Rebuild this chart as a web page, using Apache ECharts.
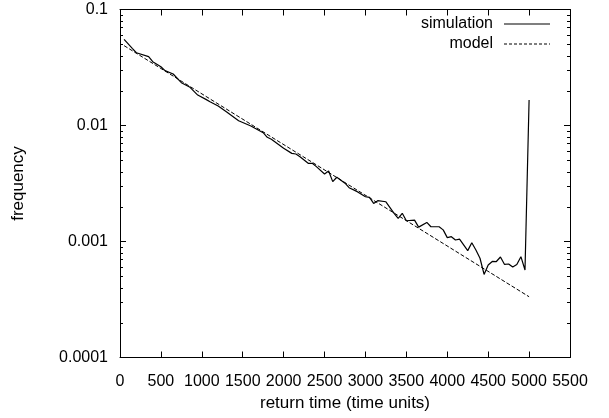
<!DOCTYPE html>
<html>
<head>
<meta charset="utf-8">
<script src="https://cdn.jsdelivr.net/npm/echarts@6/dist/echarts.min.js"></script>
<style>
html,body{margin:0;padding:0;background:#fff;}
#chart{width:609px;height:418px;}
</style>
</head>
<body>
<div id="chart"></div>
<script>
// ---- data ----
const simX = [50,150,200,350,400,500,550,650,750,850,950,1050,1100,1200,1300,1450,1600,1650,1750,1800,1850,2000,2100,2150,2200,2300,2350,2400,2500,2550,2600,2650,2750,2800,2900,3000,3050,3100,3150,3250,3350,3400,3450,3500,3600,3650,3750,3800,3900,3950,4000,4050,4100,4150,4250,4300,4350,4400,4450,4500,4550,4600,4650,4700,4750,4800,4850,4900,4950,5000];
const simY = [0.0553,0.0463,0.0424,0.0392,0.0355,0.0321,0.0297,0.0278,0.0234,0.0215,0.0183,0.0168,0.0160,0.0147,0.01315,0.0110,0.0099,0.00946,0.00867,0.00791,0.0076,0.00636,0.00575,0.00568,0.00538,0.00472,0.00472,0.00442,0.00382,0.00405,0.00328,0.00358,0.00318,0.00291,0.00269,0.00243,0.0024,0.00213,0.00225,0.0022,0.00175,0.00158,0.00175,0.00151,0.00153,0.00133,0.00146,0.00134,0.00134,0.00126,0.00108,0.0011,0.00103,0.00105,0.000834,0.000977,0.000845,0.000717,0.00052,0.000627,0.000673,0.000672,0.000735,0.000634,0.00064,0.000602,0.000634,0.00074,0.000568,0.0166];
const modelX = [50, 5000];
const modelY = [0.0488, 0.000334];
const yTickLabels = ['0.0001','0.001','0.01','0.1'];
const minorTickValues = [2e-4,3e-4,4e-4,5e-4,6e-4,7e-4,8e-4,9e-4,2e-3,3e-3,4e-3,5e-3,6e-3,7e-3,8e-3,9e-3,2e-2,3e-2,4e-2,5e-2,6e-2,7e-2,8e-2,9e-2];
const seriesNames = ['simulation','model'];
const xAxisName = 'return time (time units)';
const yAxisName = 'frequency';

const FONT = 'Liberation Sans, Arial, Helvetica, sans-serif';
const FS = 16;

// legend sample icons (solid line / dashed line)
const ICON_SOLID = 'path://M0,0h46v1.2h-46z';
const ICON_DASH = 'path://M0,0h3v1h-3zM5,0h3v1h-3zM10,0h3v1h-3zM15,0h3v1h-3zM20,0h3v1h-3zM25,0h3v1h-3zM30,0h3v1h-3zM35,0h3v1h-3zM40,0h3v1h-3zM45,0h1v1h-1z';

const chart = echarts.init(document.getElementById('chart'), null, {renderer:'canvas'});

const zip = (xs, ys) => xs.map((x,i)=>[x, ys[i]]);

const yFmt = v => {
  const i = Math.round(Math.log10(v)) + 4;
  return yTickLabels[i] !== undefined ? yTickLabels[i] : String(v);
};

const axisCommonX = {
  type:'value', min:0, max:5500, interval:500,
  axisLine:{show:true, onZero:false, lineStyle:{color:'#000', width:1}},
  axisTick:{show:true, inside:true, length:6, lineStyle:{color:'#000', width:1}},
  splitLine:{show:false}
};
const axisCommonY = {
  type:'log', logBase:10, min:0.0001, max:0.1,
  axisLine:{show:true, onZero:false, lineStyle:{color:'#000', width:1}},
  axisTick:{show:true, inside:true, length:6, lineStyle:{color:'#000', width:1}},
  minorTick:{show:false},
  splitLine:{show:false}
};

const option = {
  animation:false,
  backgroundColor:'#fff',
  textStyle:{fontFamily:FONT},
  grid:{left:120, right:39, top:9.5, bottom:60.5, containLabel:false},
  legend:{
    data:[{name:seriesNames[0], icon:ICON_SOLID},{name:seriesNames[1], icon:ICON_DASH}],
    orient:'vertical',
    right:54, top:11,
    align:'right',
    itemWidth:46, itemHeight:14, itemGap:4,
    itemStyle:{color:'#000'},
    textStyle:{fontFamily:FONT, fontSize:FS, color:'#000', padding:[0,6,0,0]},
    selectedMode:false
  },
  xAxis:[
    Object.assign({}, axisCommonX, {
      position:'bottom',
      name:xAxisName, nameLocation:'middle', nameGap:37,
      nameTextStyle:{fontFamily:FONT, fontSize:17, color:'#000'},
      axisLabel:{show:true, margin:16, color:'#000', fontFamily:FONT, fontSize:FS, formatter:v=>String(v)}
    }),
    Object.assign({}, axisCommonX, {position:'top', axisLabel:{show:false}})
  ],
  yAxis:[
    Object.assign({}, axisCommonY, {
      position:'left',
      name:yAxisName, nameLocation:'middle', nameGap:93, nameRotate:90,
      nameTextStyle:{fontFamily:FONT, fontSize:17, color:'#000'},
      axisLabel:{show:true, margin:12, color:'#000', fontFamily:FONT, fontSize:FS, formatter:yFmt}
    }),
    Object.assign({}, axisCommonY, {position:'right', axisLabel:{show:false}})
  ],
  series:[
    {
      name:'simulation', type:'line', xAxisIndex:0, yAxisIndex:0,
      data:zip(simX, simY), showSymbol:false, symbol:'none',
      lineStyle:{color:'#000', width:1.2, type:'solid'},
      itemStyle:{color:'#000'}
    },
    {
      name:'model', type:'line', xAxisIndex:0, yAxisIndex:0,
      data:zip(modelX, modelY), showSymbol:false, symbol:'none',
      lineStyle:{color:'#000', width:1, type:[4,2]},
      itemStyle:{color:'#000'}
    },
    {
      name:'minorTicks', type:'custom', xAxisIndex:0, yAxisIndex:0,
      data:minorTickValues.map(v=>[0, v]),
      silent:true, clip:false, z:10,
      renderItem:function(params, api){
        const p0 = api.coord([0, api.value(1)]);
        const p1 = api.coord([5500, api.value(1)]);
        const y = Math.round(p0[1]) + 0.5;
        const xl = Math.round(p0[0]);
        const xr = Math.round(p1[0]);
        return {type:'group', children:[
          {type:'line', shape:{x1:xl, y1:y, x2:xl+3, y2:y}, style:{stroke:'#000', lineWidth:1}},
          {type:'line', shape:{x1:xr-3, y1:y, x2:xr, y2:y}, style:{stroke:'#000', lineWidth:1}}
        ]};
      }
    }
  ]
};
chart.setOption(option);
</script>
</body>
</html>
